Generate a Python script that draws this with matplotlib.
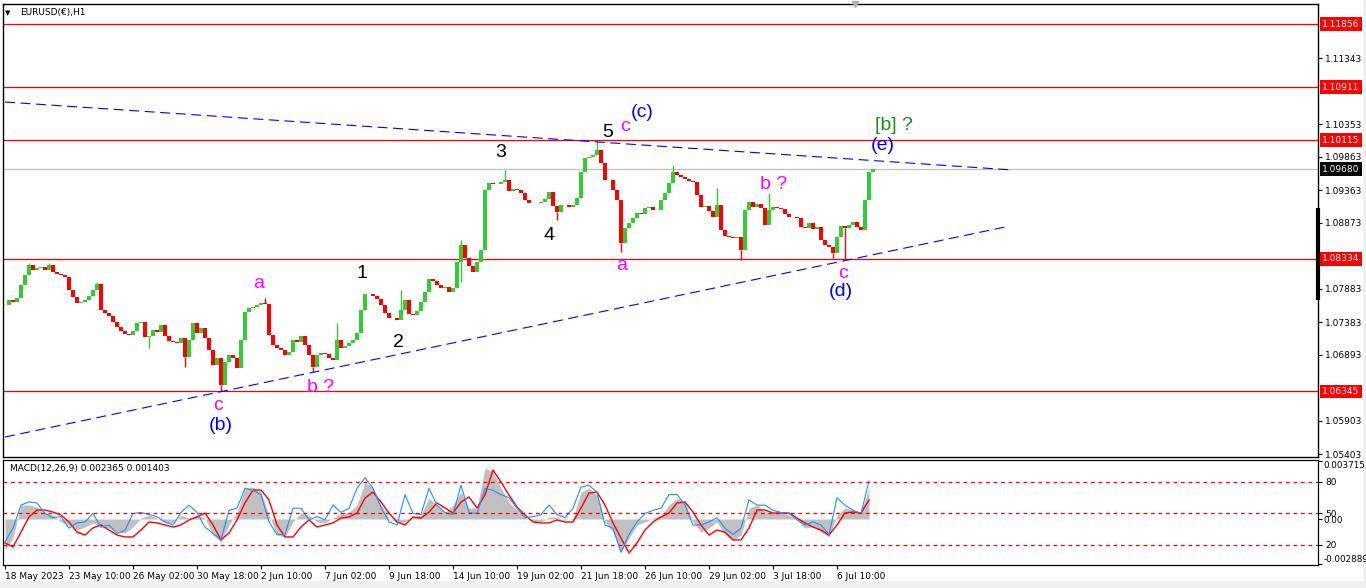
import numpy as np
import matplotlib
matplotlib.use("Agg")
import matplotlib.pyplot as plt
import matplotlib.transforms as mtransforms
from matplotlib.patches import Rectangle

plt.rcParams['font.family'] = ['DejaVu Sans']

# EURUSD H1, one close every 4 hourly bars (bar 0 = 18 May 2023 18:00)
bar_step = 4
closes = [
    1.07641, 1.07716, 1.07686, 1.07746, 1.07941, 1.08091, 1.08241, 1.08166, 1.08196, 1.08211,
    1.08166, 1.08241, 1.08136, 1.08106, 1.08091, 1.08061, 1.07866, 1.07761, 1.07671, 1.07686,
    1.07716, 1.07776, 1.07866, 1.07956, 1.07566, 1.07521, 1.07476, 1.07386, 1.07311, 1.07251,
    1.07206, 1.07191, 1.07251, 1.07371, 1.07386, 1.07161, 1.07176, 1.07266, 1.07236, 1.07341,
    1.07176, 1.07101, 1.07086, 1.07071, 1.07146, 1.06861, 1.07116, 1.07371, 1.07221, 1.07296,
    1.07146, 1.06966, 1.06741, 1.06846, 1.06441, 1.06786, 1.06891, 1.06846, 1.06696, 1.07116,
    1.07536, 1.07596, 1.07611, 1.07641, 1.07671, 1.07656, 1.07191, 1.07041, 1.06996, 1.06966,
    1.06891, 1.06936, 1.07116, 1.07086, 1.07176, 1.07041, 1.06891, 1.06711, 1.06891, 1.06921,
    1.06906, 1.06846, 1.06816, 1.07116, 1.06996, 1.07026, 1.07071, 1.07116, 1.07221, 1.07566,
    1.07806, 1.07806, 1.07776, 1.07731, 1.07641, 1.07521, 1.07446, 1.07446, 1.07416, 1.07566,
    1.07716, 1.07506, 1.07491, 1.07551, 1.07686, 1.07836, 1.08031, 1.08001, 1.07941, 1.07896,
    1.07911, 1.07836, 1.07896, 1.08286, 1.08541, 1.08346, 1.08226, 1.08136, 1.08286, 1.08466,
    1.09366, 1.09471, 1.09456, 1.09456, 1.09486, 1.09516, 1.09351, 1.09381, 1.09366, 1.09321,
    1.09216, 1.09171, 1.09171, 1.09171, 1.09186, 1.09231, 1.09336, 1.09126, 1.09036, 1.09141,
    1.09141, 1.09111, 1.09141, 1.09246, 1.09636, 1.09846, 1.09861, 1.09891, 1.09966, 1.09771,
    1.09516, 1.09516, 1.09366, 1.09216, 1.08571, 1.08796, 1.08871, 1.08946, 1.09021, 1.09006,
    1.09096, 1.09111, 1.09066, 1.09066, 1.09216, 1.09321, 1.09471, 1.09636, 1.09591, 1.09561,
    1.09531, 1.09501, 1.09486, 1.09291, 1.09111, 1.09126, 1.09051, 1.08961, 1.09141, 1.08766,
    1.08676, 1.08661, 1.08646, 1.08661, 1.08466, 1.09066, 1.09186, 1.09111, 1.09156, 1.09096,
    1.08841, 1.09066, 1.09111, 1.09096, 1.09081, 1.09006, 1.08961, 1.08961, 1.08946, 1.08811,
    1.08796, 1.08871, 1.08781, 1.08811, 1.08616, 1.08541, 1.08511, 1.08421, 1.08661, 1.08826,
    1.08796, 1.08841, 1.08886, 1.08811, 1.08766, 1.09216, 1.09636, 1.09680,
]

# long wicks (bar, extreme price)
spike_bar = [24, 44, 92, 144, 180, 216, 260, 308, 332, 396, 456, 456, 500, 552,
             592, 616, 668, 712, 736, 764, 828, 840]
spike_price = [1.08271, 1.08271, 1.07986, 1.07001, 1.06711, 1.06345, 1.07746, 1.06636,
               1.07371, 1.07866, 1.08616, 1.07986, 1.09666, 1.08916, 1.10100, 1.08436,
               1.09741, 1.09396, 1.08316, 1.09321, 1.08346, 1.08316]

red_levels = [1.11856, 1.10911, 1.10115, 1.08334, 1.06345]
last_price = 1.09680

price_ticks = [1.11343, 1.10353, 1.09863, 1.09363, 1.08873,
               1.07883, 1.07383, 1.06893, 1.05903, 1.05403]

time_ticks = [0, 64, 128, 192, 256, 320, 384, 448, 512, 576, 640, 704, 768, 832]
time_labels = ['18 May 2023', '23 May 10:00', '26 May 02:00', '30 May 18:00',
               '2 Jun 10:00', '7 Jun 02:00', '9 Jun 18:00', '14 Jun 10:00',
               '19 Jun 02:00', '21 Jun 18:00', '26 Jun 10:00', '29 Jun 02:00',
               '3 Jul 18:00', '6 Jul 10:00']

# triangle trend lines (bar, price)
upper_bars = [0, 1008]
upper_prices = [1.10686, 1.09666]
lower_bars = [0, 1000]
lower_prices = [1.05661, 1.08811]

# MACD(12,26,9) + oscillator, one value every 8 bars
macd_step = 8
macd_main = [
    -0.00197, -0.00121, 0.00089, 0.00089, 0.00076, 0.00044, 0.00025, -0.00019, -0.00038, -0.00070,
    -0.00051, -0.00025, -0.00051, -0.00057, -0.00083, -0.00089, -0.00051, 0.00006, 0.00025, 0.00006,
    -0.00025, -0.00025, 0.00025, 0.00006, 0.00025, 0.00006, -0.00102, -0.00146, -0.00038, 0.00044,
    0.00197, 0.00203, 0.00171, 0.00025, -0.00102, -0.00114, -0.00019, 0.00038, 0.00025, -0.00019,
    -0.00025, 0.00006, 0.00038, 0.00044, 0.00089, 0.00235, 0.00197, 0.00089, 0.00006, -0.00025,
    -0.00019, 0.00013, 0.00025, 0.00133, 0.00089, 0.00038, 0.00089, 0.00171, 0.00070, 0.00070,
    0.00324, 0.00298, 0.00197, 0.00108, 0.00057, 0.00013, -0.00019, -0.00019, 0.00013, 0.00013,
    -0.00006, 0.00006, 0.00171, 0.00197, 0.00152, -0.00019, -0.00083, -0.00210, -0.00121, -0.00038,
    -0.00019, 0.00006, 0.00025, 0.00089, 0.00133, 0.00108, -0.00019, -0.00083, -0.00057, -0.00019,
    -0.00102, -0.00133, -0.00102, 0.00070, 0.00089, 0.00044, 0.00038, 0.00038, 0.00025, -0.00006,
    -0.00057, -0.00051, -0.00083, -0.00114, 0.00025, 0.00070, 0.00057, 0.00044, 0.00197,
]
macd_signal = [
    -0.00152, -0.00178, -0.00083, 0.00013, 0.00057, 0.00057, 0.00044, 0.00025, -0.00019, -0.00083,
    -0.00102, -0.00057, -0.00038, -0.00070, -0.00102, -0.00114, -0.00114, -0.00070, -0.00019, -0.00025,
    -0.00038, -0.00051, -0.00038, -0.00006, 0.00013, 0.00038, -0.00038, -0.00133, -0.00089, -0.00006,
    0.00102, 0.00184, 0.00184, 0.00121, -0.00038, -0.00114, -0.00114, -0.00051, -0.00006, -0.00051,
    -0.00038, -0.00025, 0.00006, 0.00013, 0.00038, 0.00133, 0.00171, 0.00108, 0.00038, -0.00019,
    -0.00038, 0.00013, 0.00006, 0.00044, 0.00102, 0.00070, 0.00038, 0.00108, 0.00140, 0.00070,
    0.00152, 0.00311, 0.00235, 0.00152, 0.00076, 0.00025, -0.00019, -0.00025, -0.00025, -0.00006,
    -0.00019, -0.00019, 0.00070, 0.00165, 0.00171, 0.00089, -0.00025, -0.00121, -0.00216, -0.00152,
    -0.00070, -0.00019, 0.00013, 0.00038, 0.00102, 0.00108, 0.00044, -0.00038, -0.00102, -0.00070,
    -0.00083, -0.00133, -0.00133, -0.00057, 0.00057, 0.00057, 0.00038, 0.00038, 0.00038, 0.00006,
    -0.00025, -0.00051, -0.00070, -0.00102, -0.00038, 0.00038, 0.00044, 0.00038, 0.00121,
]
osc_line = [
    23, 36, 58, 61, 60, 50, 46, 47, 36, 41,
    42, 50, 37, 39, 31, 34, 50, 51, 49, 47,
    42, 39, 51, 58, 51, 37, 31, 25, 53, 55,
    74, 72, 68, 42, 30, 30, 55, 55, 44, 47,
    44, 58, 51, 55, 74, 84, 74, 56, 42, 39,
    68, 50, 49, 74, 58, 51, 49, 77, 51, 50,
    74, 72, 68, 65, 55, 46, 47, 49, 58, 49,
    46, 55, 75, 77, 70, 39, 36, 13, 30, 42,
    50, 53, 55, 68, 68, 58, 39, 39, 42, 46,
    36, 30, 36, 63, 58, 58, 53, 51, 50, 44,
    39, 42, 39, 30, 65, 58, 53, 50, 81,
]
osc_levels = [80, 50, 20]

# wave count labels: text, bar, price (baseline), colour, alignment
wave_labels = [
    ('c', 213, 1.06066, '#FF00FF', 'center'),
    ('(b)', 216, 1.05766, '#0000FF', 'center'),
    ('a', 254, 1.07896, '#FF00FF', 'center'),
    ('b ?', 302, 1.06336, '#FF00FF', 'left'),
    ('1', 357, 1.08046, 'black', 'center'),
    ('2', 393, 1.07011, 'black', 'center'),
    ('3', 496, 1.09861, 'black', 'center'),
    ('4', 544, 1.08616, 'black', 'center'),
    ('5', 603, 1.10161, 'black', 'center'),
    ('c', 620, 1.10251, '#FF00FF', 'center'),
    ('(c)', 637, 1.10461, '#0000FF', 'center'),
    ('a', 617, 1.08166, '#FF00FF', 'center'),
    ('b ?', 755, 1.09381, '#FF00FF', 'left'),
    ('c', 838, 1.08046, '#FF00FF', 'center'),
    ('(d)', 836, 1.07776, '#0000FF', 'center'),
    ('(e)', 878, 1.09966, '#0000FF', 'center'),
    ('[b] ?', 870, 1.10266, '#1E8C1E', 'left'),
]

W, H = 1366, 588
fig = plt.figure(figsize=(W / 100, H / 100), dpi=100)
fig.patch.set_facecolor('white')
fig.patches.append(Rectangle((0, 0), 1, 7 / H, transform=fig.transFigure,
                             fc='#F0F0F0', ec='none', zorder=-5))
fig.patches.append(Rectangle((1363 / W, 0), 3 / W, 1, transform=fig.transFigure,
                             fc='#F0F0F0', ec='none', zorder=-5))

ax = fig.add_axes([3 / W, 1 - 457 / H, 1315 / W, 453 / H])
axm = fig.add_axes([3 / W, 1 - 565 / H, 1315 / W, 105 / H])

GREEN = '#32CD32'
RED = '#FF0000'

# candles
bars = np.arange(len(closes)) * bar_step
c = np.array(closes)
o = np.r_[c[0], c[:-1]]
up = c >= o
lo = np.minimum(o, c)
hi = np.maximum(o, c)
cols = np.where(up, GREEN, RED)
ax.bar(bars, hi - lo + 0.00003, bottom=lo, width=3.4, color=cols, lw=0, zorder=3)
for b, p in zip(spike_bar, spike_price):
    k = b // bar_step
    edge = hi[k] if p > hi[k] else lo[k]
    ax.vlines(b, edge, p, color=cols[k], lw=1, zorder=3)

for lv in red_levels:
    ax.axhline(lv, color=RED, lw=0.9, zorder=2)
ax.axhline(last_price, color='#C0C0C0', lw=0.9, zorder=2)

ax.plot(upper_bars, upper_prices, color='#0000FF', lw=0.8, ls=(0, (9, 5)), zorder=4)
ax.plot(lower_bars, lower_prices, color='#0000FF', lw=0.8, ls=(0, (9, 5)), zorder=4)

for t, b, p, col, ha in wave_labels:
    ax.text(b, p, t, color=col, fontsize=14, ha=ha, va='baseline',
            family=['Liberation Sans', 'DejaVu Sans'], zorder=5)

ax.set_xlim(-2, 1313)
ax.set_ylim(1.12216 - 0.00015 * 457, 1.12216 - 0.00015 * 4)
ax.set_xticks([])
ax.yaxis.tick_right()
ax.set_yticks(price_ticks)
ax.set_yticklabels([f'{v:.5f}' for v in price_ticks])
ax.tick_params(axis='y', direction='out', length=3, pad=2, labelsize=6.5)
for s in ax.spines.values():
    s.set_linewidth(1)

trans = mtransforms.blended_transform_factory(ax.transAxes, ax.transData)
for lv in red_levels:
    ax.text(1.0 + 4 / 1315, lv, f'{lv:.5f}', transform=trans, ha='left', va='center',
            fontsize=6.5, color='white', clip_on=False, zorder=6,
            bbox=dict(boxstyle='square,pad=0.25', fc=RED, ec='none'))
ax.text(1.0 + 4 / 1315, last_price, f'{last_price:.5f}', transform=trans, ha='left',
        va='center', fontsize=6.5, color='white', clip_on=False, zorder=6,
        bbox=dict(boxstyle='square,pad=0.25', fc='black', ec='none'))
ax.plot([1.0, 1.0], [1.07716, 1.09096], transform=trans, color='black', lw=3,
        clip_on=False, solid_capstyle='butt', zorder=6)
ax.plot([850], [ax.get_ylim()[1]], marker='v', color='#B0B0B0', ms=5, clip_on=False, zorder=6)

fig.text(8 / W, 1 - 13 / H, '▼', fontsize=5, va='center', ha='center')
fig.text(20 / W, 1 - 13 / H, 'EURUSD(€),H1', fontsize=6.5, va='center')

# MACD panel
m = np.arange(len(macd_main)) * macd_step
axm.fill_between(m, 0, macd_main, color='#C0C0C0', lw=0, zorder=1)
axm.plot(m, macd_signal, color=RED, lw=1, zorder=3)
axm.set_xlim(-2, 1313)
axm.set_ylim(-0.002921, 0.003747)
axm.set_xticks(time_ticks)
axm.set_xticklabels(time_labels, ha='left')
axm.tick_params(axis='x', direction='out', length=3, pad=2, labelsize=6.5)
axm.text(7 / 1315, (565 - 469) / 105, 'MACD(12,26,9) 0.002365 0.001403', transform=axm.transAxes,
         fontsize=6.5, va='center', ha='left')

axo = axm.twinx()
axo.plot(m, osc_line, color='#1E90FF', lw=0.8, zorder=2)
for lv in osc_levels:
    axo.axhline(lv, color=RED, lw=0.9, ls=(0, (3, 3)))
axo.set_ylim(0.95, 100.95)
axo.set_yticks(osc_levels)
axo.set_yticklabels([str(v) for v in osc_levels])
axo.tick_params(axis='y', direction='out', length=3, pad=2, labelsize=6.5)

# twinx moves the MACD ticks to the left, put them back on the right
axm.yaxis.tick_right()
axm.yaxis.set_label_position('right')
axm.set_yticks([0.003715, 0.0, -0.002889])
axm.set_yticklabels(['0.003715', '0.00', '-0.002889'])
axm.tick_params(axis='y', direction='out', length=3, pad=1, labelsize=6.3,
                left=False, labelleft=False, right=True, labelright=True)
ylabs = axm.get_yticklabels()
ylabs[0].set_va('top')
ylabs[2].set_va('bottom')

fig.savefig('out.png', dpi=100)
